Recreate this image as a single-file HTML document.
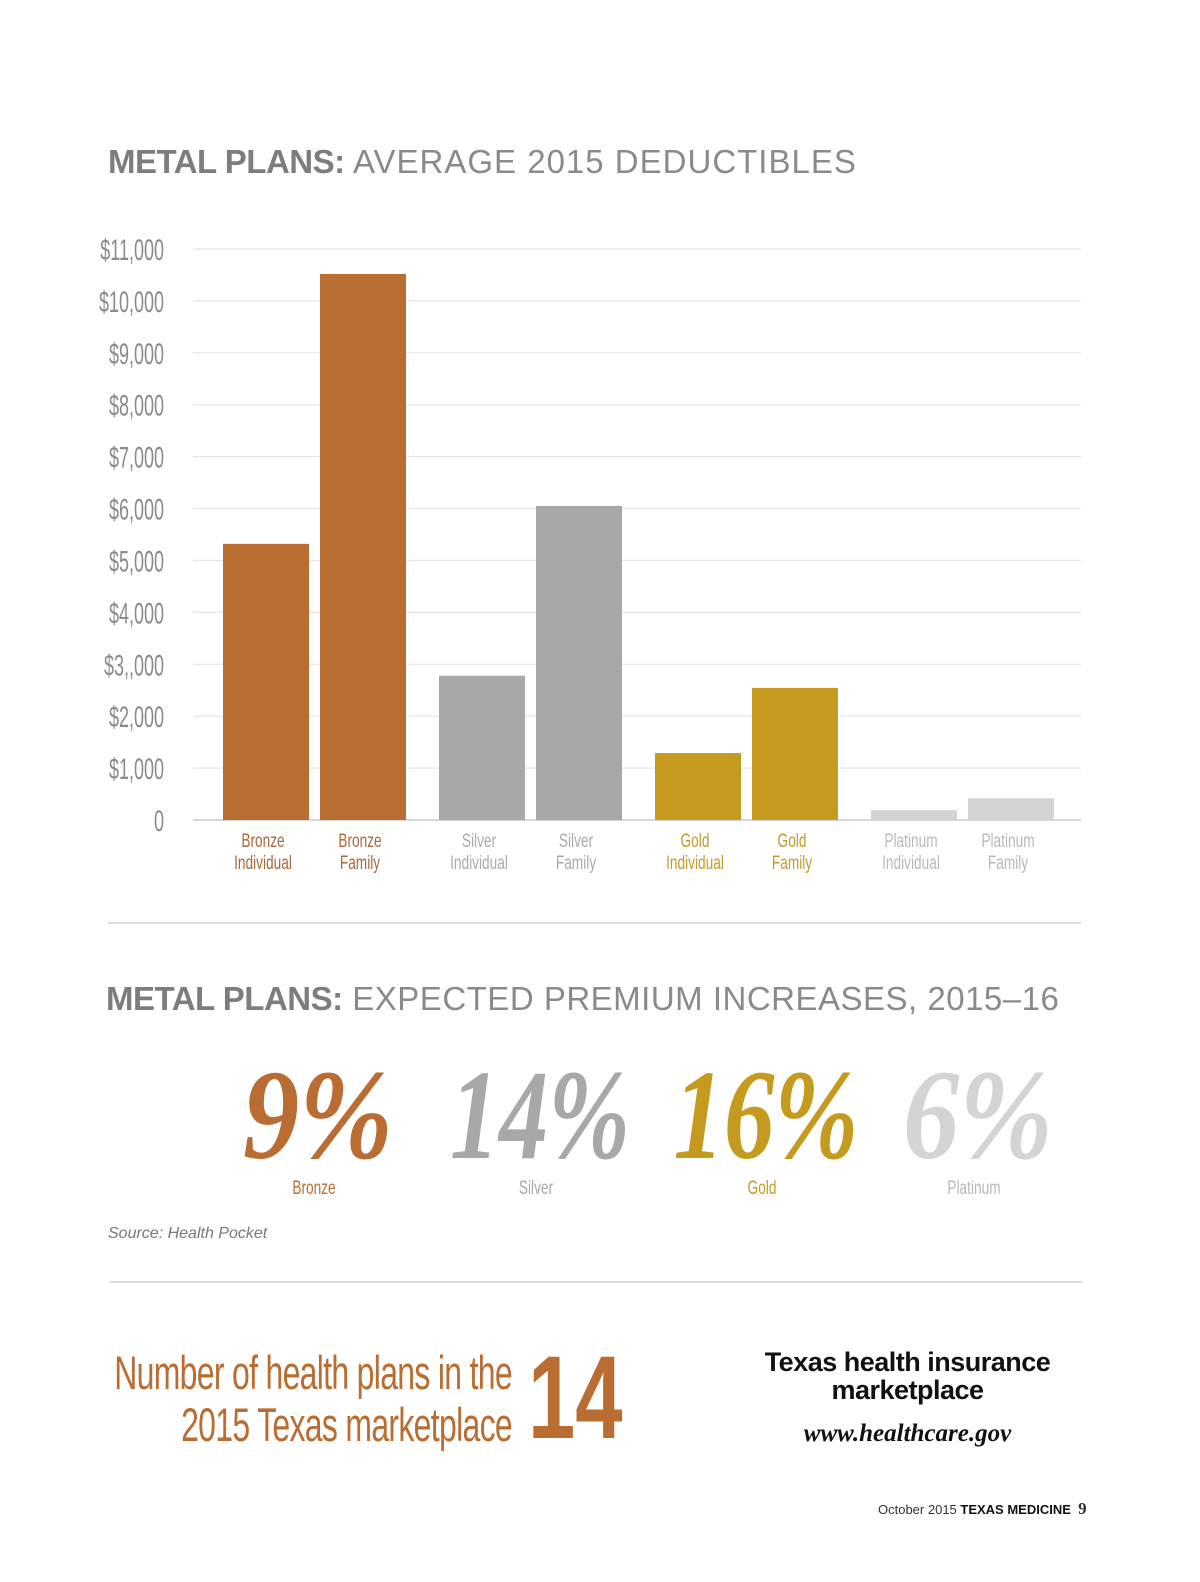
<!DOCTYPE html>
<html><head><meta charset="utf-8">
<style>
html,body{margin:0;padding:0;background:#fff;}
body{width:1200px;height:1582px;position:relative;overflow:hidden;font-family:"Liberation Sans",sans-serif;}
.abs{position:absolute;}
.title{font-size:33px;color:#8a8a8c;letter-spacing:0.5px;white-space:nowrap;}
.title b{font-weight:900;color:#7d7d80;letter-spacing:-0.5px;}
.rule{position:absolute;height:2px;background:#dcdcdc;}
</style></head><body>
<div class="abs title" style="left:108px;top:143px;letter-spacing:1px;"><b>METAL PLANS:</b> AVERAGE 2015 DEDUCTIBLES</div>

<svg class="abs" style="left:0;top:0" width="1200" height="900" id="chart"></svg>

<div class="rule" style="left:108px;top:922px;width:973px;"></div>

<div class="abs title" style="left:106px;top:980px;"><b>METAL PLANS:</b> EXPECTED PREMIUM INCREASES, 2015–16</div>

<svg class="abs" style="left:0;top:1040px" width="1200" height="170" id="pct"></svg>

<div class="abs" style="left:108px;top:1225px;font-size:16px;font-style:italic;color:#777;">Source: Health Pocket</div>

<div class="rule" style="left:110px;top:1281px;width:972px;"></div>

<div class="abs" style="right:688px;top:1347px;white-space:nowrap;text-align:right;transform:scaleX(0.68);transform-origin:right top;font-size:47px;line-height:52px;color:#b96d33;letter-spacing:-1px;">Number of health plans in the<br>2015 Texas marketplace</div>
<div class="abs" style="left:528px;top:1338px;font-size:118px;font-weight:bold;color:#b96d33;line-height:120px;transform:scaleX(0.72);transform-origin:left top;">14</div>

<div class="abs" style="left:730px;top:1348px;width:355px;text-align:center;font-size:27px;font-weight:900;line-height:28px;color:#111;letter-spacing:-0.5px;">Texas health insurance<br>marketplace</div>
<div class="abs" style="left:730px;top:1420px;width:355px;text-align:center;font-family:'Liberation Serif',serif;font-style:italic;font-weight:bold;font-size:25px;color:#111;">www.healthcare.gov</div>

<div class="abs" style="left:878px;top:1499px;font-size:13px;color:#333;white-space:nowrap;">October 2015 <b style="color:#111">TEXAS MEDICINE</b> &nbsp;<b style="font-family:'Liberation Serif',serif;font-size:17px;">9</b></div>

<script>
const categories=["Bronze Individual","Bronze Family","Silver Individual","Silver Family","Gold Individual","Gold Family","Platinum Individual","Platinum Family"];
const values=[5320,10520,2780,6050,1290,2545,190,420];
const tickValues=[0,1000,2000,3000,4000,5000,6000,7000,8000,9000,10000,11000];
const tickLabels=["0","$1,000","$2,000","$3,,000","$4,000","$5,000","$6,000","$7,000","$8,000","$9,000","$10,000","$11,000"];
const colors=["#b96d33","#b96d33","#a7a8aa","#a7a8aa","#c59b1f","#c59b1f","#d3d4d5","#d3d4d5"];
const labelColors=["#a8683a","#a8683a","#aaaaac","#aaaaac","#c19a2a","#c19a2a","#b8b8ba","#b8b8ba"];
const pctValues=["9%","14%","16%","6%"];
const pctNames=["Bronze","Silver","Gold","Platinum"];
const pctColors=["#b96d33","#a7a8aa","#c59b1f","#d3d4d5"];

const NS="http://www.w3.org/2000/svg";
const svg=document.getElementById('chart');
const y=v=>820-v*(571/11000);
const x=i=>223+Math.floor(i/2)*216+(i%2)*97;
const bw=86;
function mk(t,a,p){const e=document.createElementNS(NS,t);for(const k in a)e.setAttribute(k,a[k]);(p||svg).appendChild(e);return e;}
function cond(el,ax,s){el.setAttribute('transform','translate('+ax+',0) scale('+s+',1) translate('+(-ax)+',0)');}
tickValues.forEach((v,i)=>{
  const g=mk('line',{x1:193,x2:1081,y1:y(v),y2:y(v),stroke:i===0?'#d6d6d6':'#e6e6e6','stroke-width':i===0?2:1.2});
  
  
  const t=mk('text',{x:164,y:y(v)+11,'text-anchor':'end','font-size':30,fill:'#8a8a8c'});
  t.textContent=tickLabels[i];
  cond(t,164,0.6);
  
  
});
values.forEach((v,i)=>{
  const r=mk('rect',{x:x(i),y:y(v),width:bw,height:y(0)-y(v),fill:colors[i]});
  
  
  const parts=categories[i].split(' ');
  const cx=x(i)+bw/2-3;
  const t=mk('text',{x:cx,'text-anchor':'middle','font-size':19,fill:labelColors[i]});
  cond(t,cx,0.72);
  
  
  parts.forEach((p,j)=>{const s=mk('tspan',{x:cx,y:847+j*22},t);s.textContent=p;});
});
const ps=document.getElementById('pct');
const pcx=[318,540,766,978];
const pw=[150,180,185,150];
pctValues.forEach((p,i)=>{
  const t=mk('text',{x:pcx[i]-pw[i]/2,y:118,'font-size':128,'font-style':'italic','font-weight':'bold',fill:pctColors[i],'font-family':'"Liberation Serif",serif',textLength:pw[i],lengthAdjust:'spacingAndGlyphs'},ps);
  t.textContent=p;
  
  
  const lx=pcx[i]-4;
  const l=mk('text',{x:lx,y:154,'text-anchor':'middle','font-size':19,fill:pctColors[i]==='#d3d4d5'?'#b8b8ba':pctColors[i]},ps);
  cond(l,lx,0.72);
  l.textContent=pctNames[i];
  
  
});
</script>
</body></html>
